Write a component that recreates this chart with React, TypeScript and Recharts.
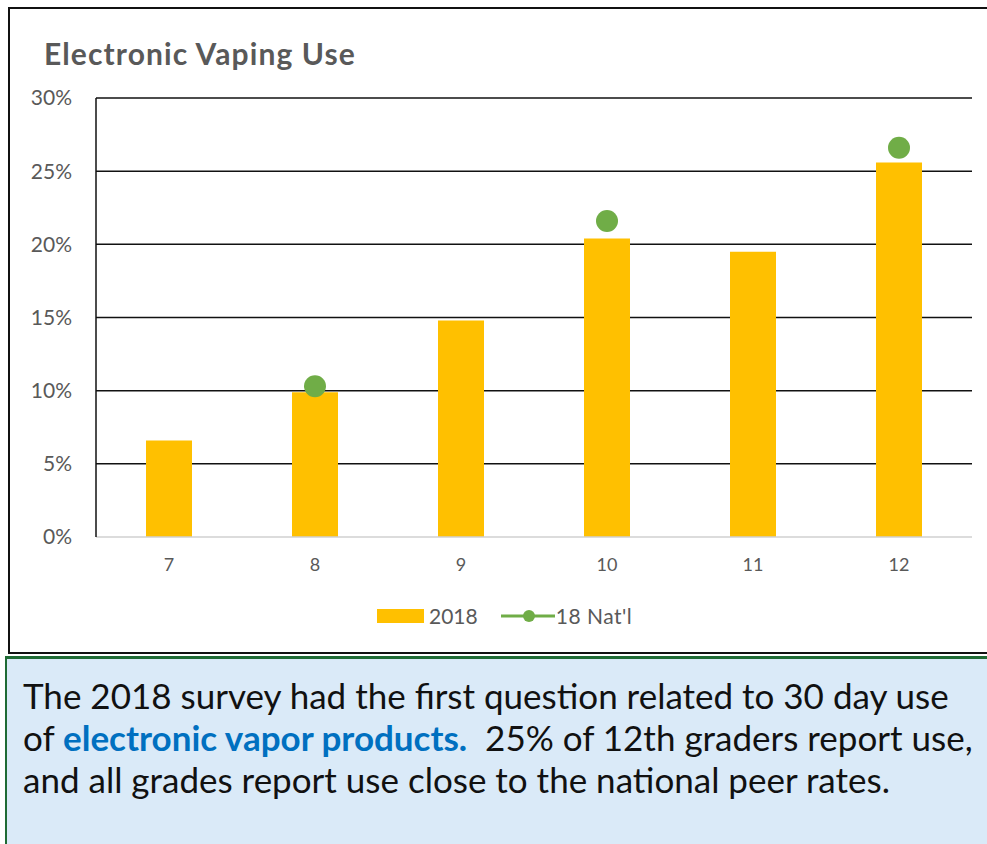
import { Bar, CartesianGrid, ComposedChart, Legend, Line, XAxis, YAxis } from 'recharts';

const GRADES = ['7', '8', '9', '10', '11', '12'];
const USE_2018 = [0.066, 0.099, 0.148, 0.204, 0.195, 0.256];
const NAT_18: (number | null)[] = [null, 0.103, null, 0.216, null, 0.266];
const Y_TICKS = [0, 0.05, 0.1, 0.15, 0.2, 0.25, 0.3];

const BAR_COLOR = '#FFC000';
const DOT_COLOR = '#70AD47';
const FONT = 'Lato, "Open Sans", sans-serif';

const data = GRADES.map((g, i) => ({ grade: g, y2018: USE_2018[i], nat: NAT_18[i] }));

function LegendContent() {
  return (
    <div style={{ display: 'flex', justifyContent: 'flex-start', alignItems: 'center', paddingLeft: 377, fontFamily: FONT, fontSize: 21, color: '#595959' }}>
      <span style={{ width: 47, height: 14, background: BAR_COLOR, display: 'inline-block' }} />
      <span style={{ marginLeft: 5 }}>2018</span>
      <svg width={54} height={16} style={{ marginLeft: 23 }}>
        <line x1={0} y1={8} x2={54} y2={8} stroke={DOT_COLOR} strokeWidth={3} />
        <circle cx={28} cy={8} r={6} fill={DOT_COLOR} />
      </svg>
      <span style={{ marginLeft: 1, letterSpacing: 0.5 }}>18 Nat'l</span>
    </div>
  );
}

export default function App() {
  return (
    <div style={{ position: 'relative', width: 987, height: 844, overflow: 'hidden' }}>
      <style>{`body{margin:0;overflow:hidden}`}</style>
      <div style={{ position: 'absolute', left: 8, top: 7, width: 1000, height: 643, border: '2px solid #111' }} />
      <div style={{ position: 'absolute', left: 44, top: 35, fontFamily: FONT, fontWeight: 700, fontSize: 30, letterSpacing: 1.1, color: '#595959' }}>
        Electronic Vaping Use
      </div>
      <div style={{ position: 'absolute', left: 0, top: 0 }}>
        <ComposedChart width={987} height={650} data={data} margin={{ top: 98, right: 15, left: 10, bottom: 73 }} barCategoryGap="34%">
          <CartesianGrid vertical={false} stroke="#111" strokeWidth={1.5} horizontalValues={[0.05, 0.1, 0.15, 0.2, 0.25, 0.3]} />
          <XAxis dataKey="grade" height={40} axisLine={{ stroke: '#d0d0d0', strokeWidth: 1.5 }} tickLine={false} tickMargin={15} tick={{ fill: '#595959', fontSize: 18, fontFamily: FONT }} />
          <YAxis width={86} domain={[0, 0.3]} ticks={Y_TICKS} tickFormatter={(v: number) => `${Math.round(v * 100)}%`} axisLine={{ stroke: '#111', strokeWidth: 1.5 }} tickLine={false} tickMargin={18} tick={{ fill: '#595959', fontSize: 21, fontFamily: FONT }} />
          <YAxis yAxisId="r" orientation="right" width={0} domain={[0, 0.3]} tick={false} tickLine={false} axisLine={{ stroke: '#111', strokeWidth: 1.5 }} />
          <Bar dataKey="y2018" name="2018" fill={BAR_COLOR} barSize={46} isAnimationActive={false} />
          <Line dataKey="nat" name="18 Nat'l" stroke="none" dot={{ r: 11, fill: DOT_COLOR, stroke: 'none' }} activeDot={false} isAnimationActive={false} />
          <Legend verticalAlign="middle" align="center" wrapperStyle={{ top: 603, left: 0, width: 987 }} content={<LegendContent />} />
        </ComposedChart>
      </div>
      <div style={{ position: 'absolute', left: 5, top: 656, width: 1000, height: 200, background: '#DAEAF8', borderTop: '3px solid #1F6B35', borderLeft: '2px solid #1F6B35', boxSizing: 'border-box' }}>
        <div style={{ position: 'absolute', left: 16, top: 15, fontFamily: FONT, fontSize: 35, lineHeight: '42px', color: '#111', width: 990, whiteSpace: 'nowrap' }}>
          The 2018 survey had the first question related to 30 day use<br />
          of <span style={{ color: '#0070C0', fontWeight: 700 }}>electronic vapor products.</span>&nbsp; 25% of 12th graders report use,<br />
          and all grades report use close to the national peer rates.
        </div>
      </div>
    </div>
  );
}
